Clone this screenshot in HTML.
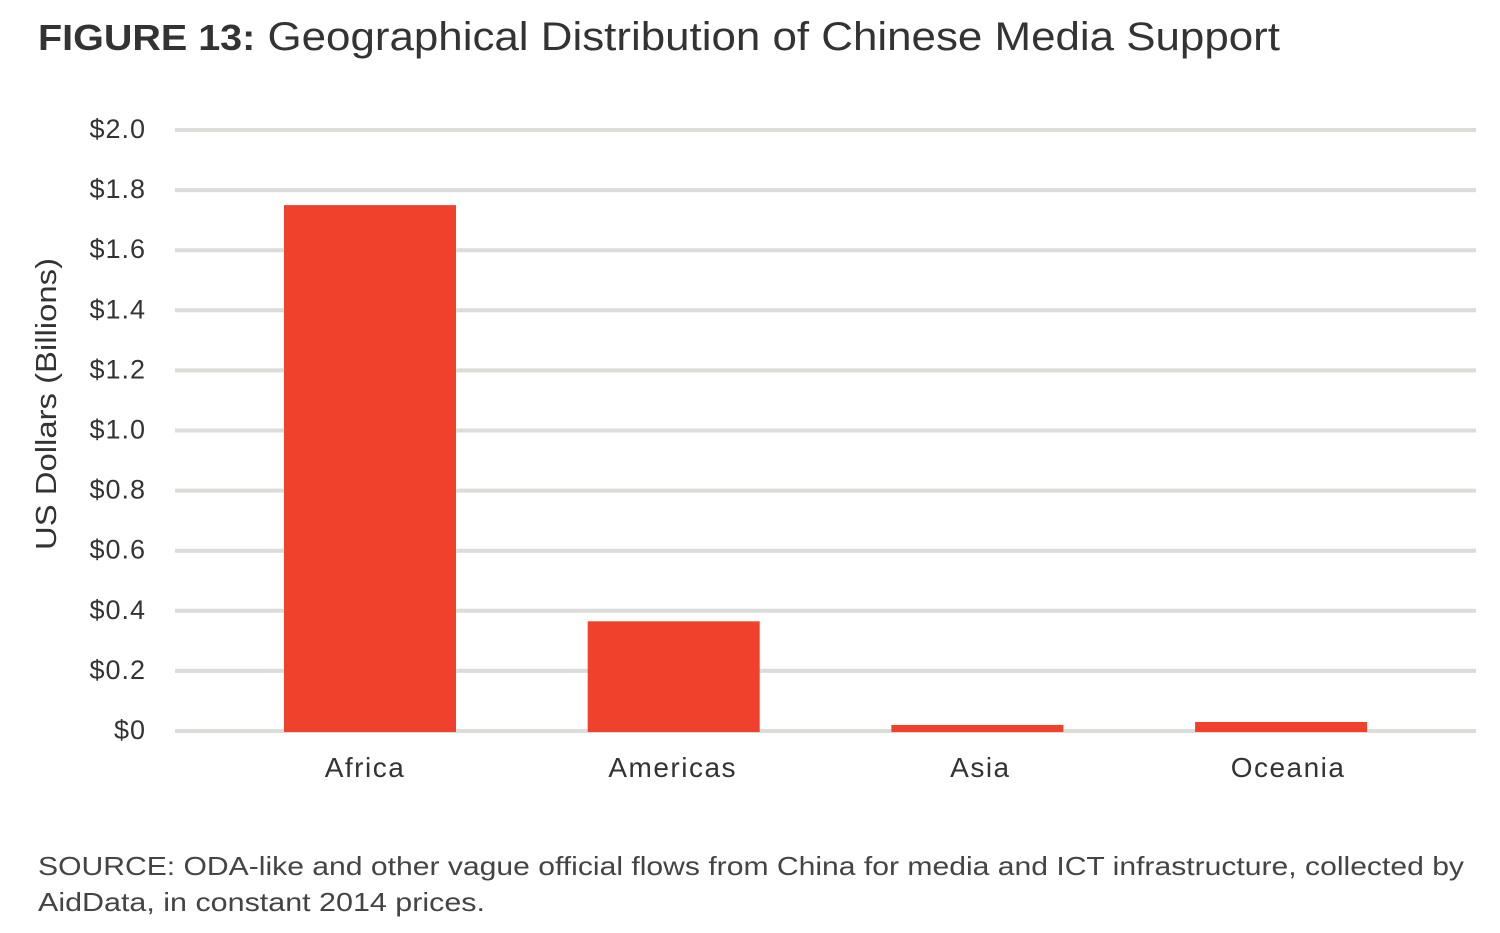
<!DOCTYPE html>
<html><head><meta charset="utf-8"><style>
body{margin:0;background:#fff;width:1500px;height:933px;overflow:hidden;font-family:"Liberation Sans",sans-serif}
svg{position:absolute;left:0;top:0}
</style></head><body>
<svg width="1500" height="933">
<text x="38" y="50" font-size="40" fill="#333" textLength="1242" lengthAdjust="spacingAndGlyphs"><tspan font-weight="bold" font-size="36">FIGURE 13:</tspan> Geographical Distribution of Chinese Media Support</text>
<g id="grid"></g><g id="bars"></g><g id="labels"></g>
<text transform="translate(56,404) rotate(-90)" text-anchor="middle" font-size="29" fill="#333" textLength="292" lengthAdjust="spacingAndGlyphs">US Dollars (Billions)</text>
<text x="38" y="875" font-size="26" fill="#444" textLength="1426" lengthAdjust="spacingAndGlyphs">SOURCE: ODA-like and other vague official flows from China for media and ICT infrastructure, collected by</text>
<text x="38" y="911" font-size="26" fill="#444" textLength="447" lengthAdjust="spacingAndGlyphs">AidData, in constant 2014 prices.</text>
</svg>
<script>
const categories=["Africa","Americas","Asia","Oceania"];
const values=[1.75,0.365,0.02,0.03];
const ticks=[0,0.2,0.4,0.6,0.8,1.0,1.2,1.4,1.6,1.8,2.0];
const tickLabels=["$0","$0.2","$0.4","$0.6","$0.8","$1.0","$1.2","$1.4","$1.6","$1.8","$2.0"];
const NS="http://www.w3.org/2000/svg";
const y=v=>731-v*300.5;
const x=i=>370+i*303.7;
const mk=(t,a,p)=>{const e=document.createElementNS(NS,t);for(const k in a)e.setAttribute(k,a[k]);p.appendChild(e);return e;};
const G=document.getElementById('grid'),B=document.getElementById('bars'),L=document.getElementById('labels');
ticks.forEach((t,i)=>{
 const l=mk('line',{x1:175,x2:1476,y1:y(t),y2:y(t),stroke:'#dcdcd9','stroke-width':4},G);
 
 
 const tx=mk('text',{x:146,y:y(t)+8,'text-anchor':'end','font-size':27,fill:'#333','letter-spacing':'1'},G);
 tx.textContent=tickLabels[i];
 
 
});
values.forEach((v,i)=>{
 const r=mk('rect',{x:x(i)-86,y:y(v),width:172,height:731-y(v)+1,fill:'#ef412c'},B);
 
 
 const t=mk('text',{x:365+i*307.7,y:777,'text-anchor':'middle','font-size':28,fill:'#333','letter-spacing':'1.5'},L);
 t.textContent=categories[i];
 
 
});
</script>
</body></html>
